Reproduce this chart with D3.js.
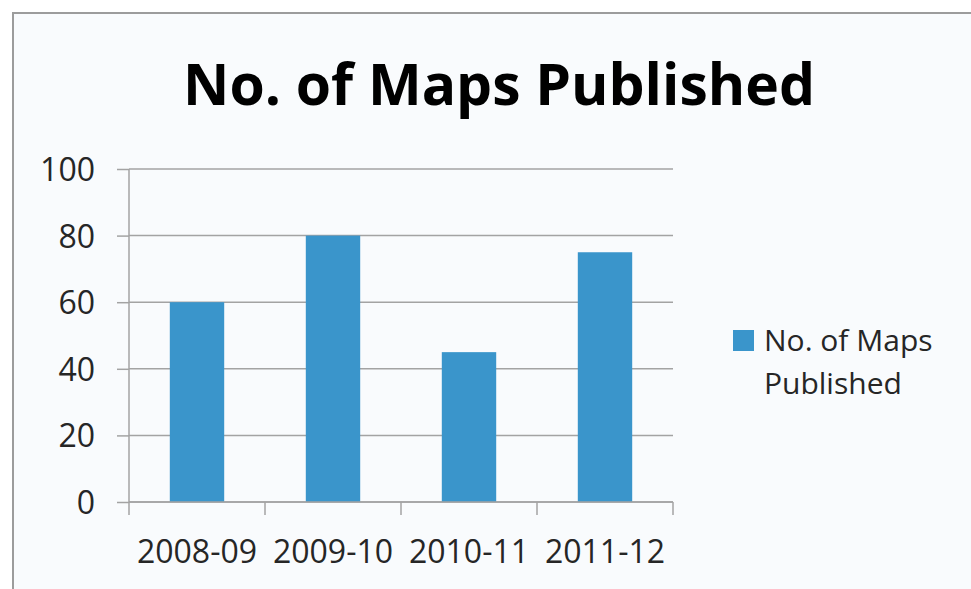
<!DOCTYPE html>
<html>
<head>
<meta charset="utf-8">
<script src="https://cdn.jsdelivr.net/npm/d3@7"></script>
<style>
  html, body { margin: 0; padding: 0; background: #ffffff; }
  svg { display: block; }
</style>
</head>
<body>
<svg id="chart" width="971" height="589"></svg>
<script>
// Data
const categories = ["2008-09", "2009-10", "2010-11", "2011-12"];
const mapsPublished = [60, 80, 45, 75];
const yTicks = [0, 20, 40, 60, 80, 100];
const chartTitle = "No. of Maps Published";
const seriesName = ["No. of Maps", "Published"];

const svg = d3.select("#chart");
const W = 971, H = 589;

// Chart frame (panel with top/left edge)
svg.append("rect").attr("x", 13).attr("y", 13).attr("width", W - 13).attr("height", H - 13)
  .attr("fill", "#f9fbfd");
svg.append("path").attr("d", `M13,${H} V13 H${W}`)
  .attr("fill", "none").attr("stroke", "#9c9c9c").attr("stroke-width", 2);

// Title
svg.append("text")
  .attr("x", 499).attr("y", 105)
  .attr("text-anchor", "middle")
  .attr("font-family", "'Open Sans', sans-serif")
  .attr("font-weight", 700).attr("font-size", 57)
  .attr("fill", "#000")
  .text(chartTitle);

// Plot area
const plot = { left: 129, right: 673, top: 169, bottom: 502 };
const x = d3.scaleBand().domain(categories).range([plot.left, plot.right]).paddingInner(0.6).paddingOuter(0.3);
const xEdges = d3.scaleBand().domain(categories).range([plot.left, plot.right]);
const y = d3.scaleLinear().domain([0, 100]).range([plot.bottom, plot.top]);

const gridColor = "#a3a3a3";
const g = svg.append("g");

// Horizontal gridlines
g.selectAll("line.grid").data(yTicks).join("line")
  .attr("class", "grid")
  .attr("x1", plot.left).attr("x2", plot.right)
  .attr("y1", d => y(d)).attr("y2", d => y(d))
  .attr("stroke", gridColor).attr("stroke-width", 1.5);

// Bars
g.selectAll("rect.bar").data(mapsPublished).join("rect")
  .attr("class", "bar")
  .attr("x", (d, i) => x(categories[i]))
  .attr("width", x.bandwidth())
  .attr("y", d => y(d))
  .attr("height", d => y(0) - y(d))
  .attr("fill", "#3a95cb");

// Y axis
const yAxis = d3.axisLeft(y).tickValues(yTicks).tickSize(12).tickPadding(22).tickFormat(d3.format("d"));
const yg = svg.append("g").attr("transform", `translate(${plot.left},0)`).call(yAxis);
yg.select(".domain").attr("stroke", gridColor).attr("stroke-width", 1.5).attr("d", `M0,${plot.top}V${plot.bottom}`);
yg.selectAll(".tick line").attr("stroke", gridColor).attr("stroke-width", 1.5);
yg.selectAll(".tick text")
  .attr("font-family", "'Open Sans', sans-serif").attr("font-size", 32)
  .attr("fill", "#262626").attr("dy", "0.36em");

// X axis: ticks at category boundaries
const boundaries = categories.map(c => xEdges(c)).concat([plot.right]);
const xg = svg.append("g");
xg.append("line").attr("x1", plot.left).attr("x2", plot.right)
  .attr("y1", plot.bottom).attr("y2", plot.bottom)
  .attr("stroke", gridColor).attr("stroke-width", 1.5);
xg.selectAll("line.tk").data(boundaries).join("line")
  .attr("class", "tk")
  .attr("x1", d => d).attr("x2", d => d)
  .attr("y1", plot.bottom).attr("y2", plot.bottom + 13)
  .attr("stroke", gridColor).attr("stroke-width", 1.5);
xg.selectAll("text").data(categories).join("text")
  .attr("x", d => xEdges(d) + xEdges.bandwidth() / 2)
  .attr("y", 563)
  .attr("text-anchor", "middle")
  .attr("font-family", "'Open Sans', sans-serif").attr("font-size", 32)
  .attr("fill", "#262626")
  .text(d => d);

// Legend
const lg = svg.append("g");
lg.append("rect").attr("x", 733).attr("y", 330).attr("width", 21).attr("height", 21).attr("fill", "#3a95cb");
lg.selectAll("text").data(seriesName).join("text")
  .attr("x", 764).attr("y", (d, i) => 351 + i * 43)
  .attr("font-family", "'Open Sans', sans-serif").attr("font-size", 30)
  .attr("fill", "#262626")
  .text(d => d);
</script>
</body>
</html>
